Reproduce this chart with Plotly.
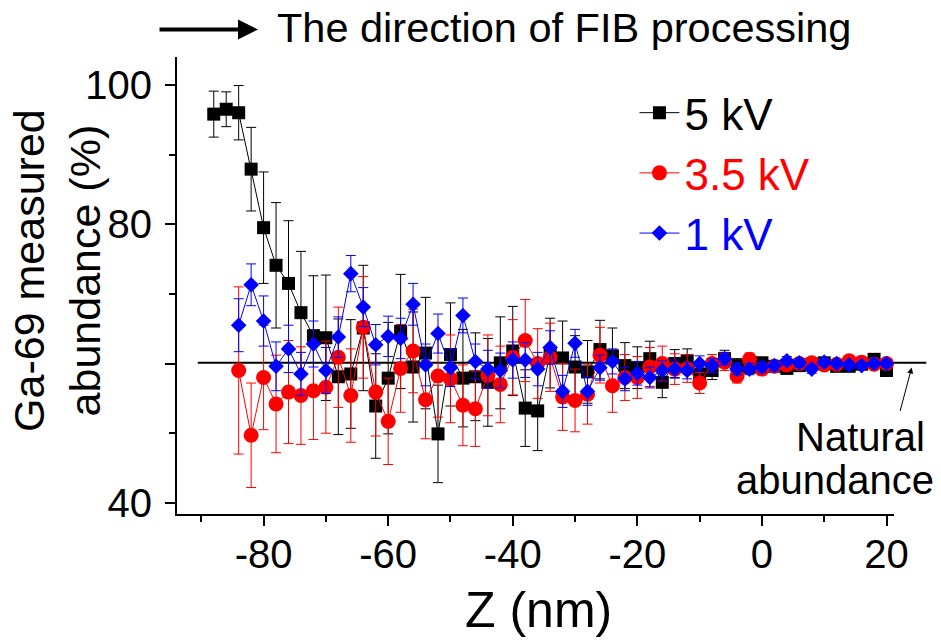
import plotly.graph_objects as go

# ---- data ----
z_black = list(range(-88, 21, 2))
v_black = [95.8, 96.5, 96.0, 87.9, 79.5, 74.1, 71.5, 67.3, 64.0, 63.7,
           58.1, 58.5, 65.1, 53.9, 57.9, 64.6, 59.5, 61.5, 49.9, 61.3,
           57.9, 58.1, 57.3, 60.1, 61.8, 53.6, 53.2, 61.5, 60.8, 59.5,
           58.8, 62.0, 61.1, 59.7, 59.4, 60.7, 57.3, 60.0, 60.4, 58.5,
           59.0, 60.7, 59.7, 59.5, 60.1, 59.6, 59.3, 59.7, 59.9, 60.1,
           59.6, 59.6, 59.9, 60.6, 59.0]
e_black = [3.3, 2.5, 3.9, 6.0, 8.0, 9.0, 9.0, 8.8, 8.6, 9.0,
           8.3, 7.8, 9.0, 7.5, 8.0, 8.2, 7.9, 8.0, 7.0, 7.4,
           7.0, 6.3, 6.3, 6.6, 6.4, 5.5, 5.7, 5.0, 5.3, 4.5,
           4.5, 4.2, 4.0, 3.3, 3.0, 2.5, 2.2, 2.0, 1.7, 1.5,
           1.3, 1.2, 1.0, 0.9, 0.8, 0.7, 0.7, 0.6, 0.6, 0.6,
           0.5, 0.5, 0.5, 0.5, 0.5]

z_red = list(range(-84, 21, 2))
v_red = [59.0, 49.7, 58.0, 54.2, 55.9, 55.4, 56.1, 56.6, 60.9, 55.4,
         65.2, 55.9, 51.7, 59.3, 61.8, 54.8, 58.2, 57.8, 54.0, 53.5,
         58.3, 57.0, 60.9, 63.3, 60.0, 60.9, 55.2, 54.7, 55.6, 61.2,
         56.8, 58.0, 58.0, 59.5, 60.0, 59.2, 59.3, 57.2, 60.0, 60.2,
         58.2, 60.6, 59.2, 59.6, 59.8, 60.0, 60.1, 59.8, 59.9, 60.4,
         60.2, 59.9, 60.0]
e_red = [12.0, 7.5, 7.5, 7.0, 7.4, 7.0, 7.0, 6.6, 7.2, 6.7,
         7.3, 6.3, 6.2, 6.3, 6.0, 5.6, 5.9, 6.3, 5.8, 5.4,
         5.8, 5.5, 5.4, 5.9, 5.0, 4.9, 4.8, 4.5, 4.3, 4.0,
         3.8, 3.3, 3.0, 2.8, 2.5, 2.2, 2.0, 1.5, 1.3, 1.2,
         1.0, 0.9, 0.8, 0.7, 0.7, 0.6, 0.6, 0.6, 0.5, 0.5,
         0.5, 0.5, 0.5]

z_blue = list(range(-84, 21, 2))
v_blue = [65.5, 71.3, 66.1, 59.6, 62.1, 58.5, 62.8, 59.0, 63.8, 72.9,
          68.1, 62.7, 63.9, 63.6, 68.5, 59.8, 64.3, 59.4, 66.9, 60.3,
          59.2, 59.0, 60.5, 60.5, 59.2, 62.3, 56.0, 62.9, 56.0, 59.4,
          60.3, 57.8, 58.6, 58.0, 59.0, 59.2, 59.0, 60.0, 59.7, 60.7,
          59.2, 59.2, 59.5, 59.7, 60.4, 60.1, 59.2, 60.2, 60.0, 59.8,
          59.7, 60.0, 60.0]
e_blue = [3.8, 3.0, 3.6, 3.5, 3.4, 3.1, 3.3, 3.3, 2.9, 2.6,
          2.8, 2.9, 2.9, 2.9, 3.0, 3.0, 2.8, 2.7, 2.5, 2.5,
          2.7, 2.5, 2.6, 2.5, 2.4, 2.4, 2.3, 2.0, 2.0, 1.8,
          1.8, 1.7, 1.7, 1.5, 1.4, 1.3, 1.2, 1.1, 1.0, 0.9,
          0.8, 0.8, 0.7, 0.7, 0.6, 0.6, 0.6, 0.5, 0.5, 0.5,
          0.5, 0.5, 0.5]

natural_abundance = 60.1
x_tickvals = [-80, -60, -40, -20, 0, 20]
x_ticktext = ["-80", "-60", "-40", "-20", "0", "20"]
y_tickvals = [40, 60, 80, 100]
y_ticktext = ["40", "", "80", "100"]

FONT = "Liberation Sans, Arial, Helvetica, sans-serif"

fig = go.Figure()

series = [
    ("5 kV", z_black, v_black, e_black, "#000000", "square", 13),
    ("3.5 kV", z_red, v_red, e_red, "#ff0000", "circle", 15),
    ("1 kV", z_blue, v_blue, e_blue, "#0000ff", "diamond", 12),
]
for name, zz, vv, ee, col, sym, sz in series:
    fig.add_trace(go.Scatter(
        x=zz, y=vv, mode="lines+markers",
        name=f"<span style='color:{col}'>{name}</span>",
        line=dict(color=col, width=1),
        marker=dict(color=col, symbol=sym, size=sz, line=dict(width=0)),
        error_y=dict(type="data", array=ee, visible=True, color=col,
                     thickness=1, width=5),
    ))

# natural abundance reference line (extends beyond the axis to the right)
fig.add_shape(type="line", xref="paper", yref="y",
              x0=0.029, x1=1.045, y0=natural_abundance, y1=natural_abundance,
              line=dict(color="black", width=2), layer="below")

ann = []
# top direction arrow + text
ann.append(dict(xref="paper", yref="paper", x=0.113, y=1.06, ax=-100, ay=0,
                text="", showarrow=True, arrowhead=2, arrowsize=1,
                arrowwidth=4, arrowcolor="black"))
ann.append(dict(xref="paper", yref="paper", x=0.5393, y=1.064,
                text="The direction of FIB processing", showarrow=False,
                xanchor="center", yanchor="middle",
                font=dict(size=41.5, color="black", family=FONT)))
# Natural abundance label
ann.append(dict(xref="paper", yref="y", x=0.9533, y=49.43, text="Natural",
                showarrow=False, xanchor="center", yanchor="middle",
                font=dict(size=40, color="black", family=FONT)))
ann.append(dict(xref="paper", yref="y", x=0.9184, y=43.34, text="abundance",
                showarrow=False, xanchor="center", yanchor="middle",
                font=dict(size=40, color="black", family=FONT)))
ann.append(dict(xref="paper", yref="y", x=1.0247, y=59.43, ax=-12, ay=45,
                text="", showarrow=True, arrowhead=2, arrowsize=1.2,
                arrowwidth=1, arrowcolor="black"))
# axis titles
ann.append(dict(xref="paper", yref="paper", x=-0.1674, y=0.534,
                text="Ga-69 measured<br>abundance (%)", textangle=-90,
                showarrow=False, xanchor="center", yanchor="middle",
                font=dict(size=43, color="black", family=FONT)))
ann.append(dict(xref="paper", yref="paper", x=0.5035, y=-0.209,
                text="Z (nm)", showarrow=False, xanchor="center",
                yanchor="middle", font=dict(size=50, color="black", family=FONT)))

fig.update_layout(
    width=941, height=642,
    margin=dict(l=177, r=47, t=57, b=128),
    paper_bgcolor="white", plot_bgcolor="white",
    font=dict(family=FONT, color="black"),
    showlegend=True,
    legend=dict(x=0.638, y=0.955, xanchor="left", yanchor="top",
                bgcolor="rgba(0,0,0,0)", font=dict(size=44, family=FONT),
                itemwidth=40, tracegroupgap=0),
    annotations=ann,
    xaxis=dict(range=[-93.9, 21.2], showgrid=False, zeroline=False,
               showline=True, linecolor="black", linewidth=2,
               tickvals=x_tickvals, ticktext=x_ticktext, ticks="outside",
               ticklen=10, tickwidth=2,
               tickcolor="black", tickfont=dict(size=40, family=FONT),
               minor=dict(dtick=10, tick0=0, ticks="outside", ticklen=6,
                          tickwidth=2, tickcolor="black"),
               ticklabelstandoff=-6),
    yaxis=dict(range=[38.4, 104], showgrid=False, zeroline=False,
               showline=True, linecolor="black", linewidth=2,
               tickvals=y_tickvals, ticktext=y_ticktext, ticks="outside",
               ticklen=10, tickwidth=2, tickcolor="black",
               tickfont=dict(size=40, family=FONT),
               minor=dict(tickvals=[50, 70, 90], ticks="outside", ticklen=6,
                          tickwidth=2, tickcolor="black"),
               ticklabelstandoff=5),
)

fig.write_html("out.html")
